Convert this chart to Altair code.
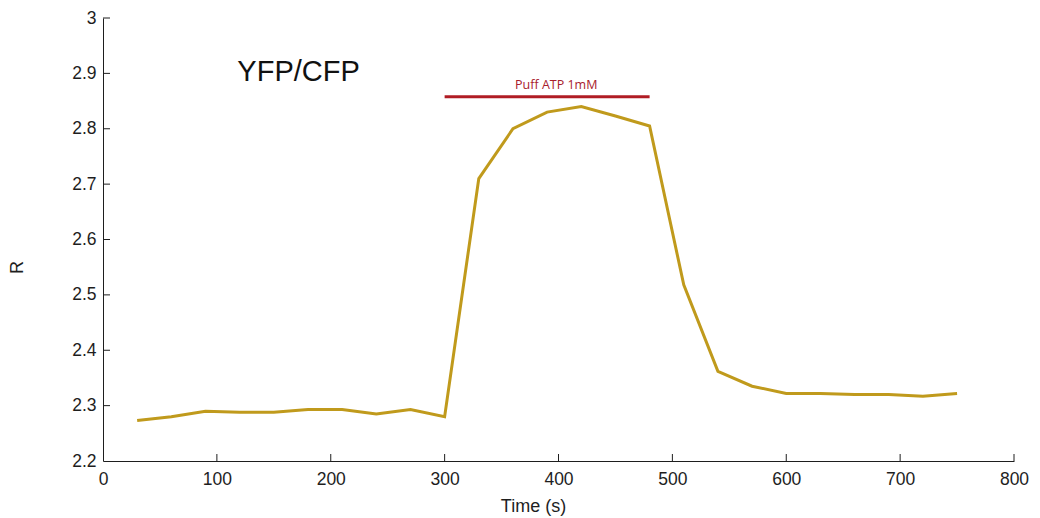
import altair as alt
import pandas as pd

# Ratio time course (seconds, YFP/CFP ratio)
time_s = [30, 60, 90, 120, 150, 180, 210, 240, 270, 300, 330, 360, 390,
          420, 450, 480, 510, 540, 570, 600, 630, 660, 690, 720, 750]
ratio = [2.273, 2.280, 2.290, 2.288, 2.288, 2.293, 2.293, 2.285, 2.293, 2.280,
         2.710, 2.800, 2.830, 2.840, 2.823, 2.805, 2.518, 2.362, 2.335, 2.322,
         2.322, 2.320, 2.320, 2.317, 2.322]

# Stimulus period (ATP puff)
puff_start, puff_end, puff_level = 300, 480, 2.858
puff_label = "Puff ATP 1mM"

x_ticks = [0, 100, 200, 300, 400, 500, 600, 700, 800]
y_ticks = [2.2, 2.3, 2.4, 2.5, 2.6, 2.7, 2.8, 2.9, 3.0]

W, H = 911, 443
font = "Liberation Sans"
ink = "#1e1e1e"

df = pd.DataFrame({"t": time_s, "r": ratio})

x_scale = alt.Scale(domain=[0, 800], nice=False, zero=False)
y_scale = alt.Scale(domain=[2.2, 3.0], nice=False, zero=False)

x_axis = alt.Axis(values=x_ticks, tickSize=0, labelPadding=9, grid=False,
                  labelFlush=False, labelFontSize=17.5, labelFont=font,
                  labelColor=ink, domainColor=ink, title="Time (s)",
                  titleFontSize=18, titleFont=font, titleFontWeight="normal",
                  titleColor=ink, titleX=430, titleY=45,
                  titleBaseline="middle", titleAlign="center")
y_axis = alt.Axis(values=y_ticks, tickSize=0, labelPadding=7, grid=False,
                  labelFlush=False, labelFontSize=17.5, labelFont=font,
                  labelColor=ink, format=".1~f", domainColor=ink, title="R",
                  titleFontSize=18, titleFont=font, titleFontWeight="normal",
                  titleColor=ink, titleX=-86, titleY=249, titleAngle=-90,
                  titleBaseline="middle", titleAlign="center")


def xenc(field):
    return alt.X(field, type="quantitative", scale=x_scale, axis=x_axis)


def yenc(field):
    return alt.Y(field, type="quantitative", scale=y_scale, axis=y_axis)


line = alt.Chart(df).mark_line(color="#c09a1c", strokeWidth=3).encode(
    x=xenc("t"), y=yenc("r"),
)

# Inward-pointing tick marks
xt = pd.DataFrame({"v": x_ticks[1:]})
x_tick_marks = alt.Chart(xt).mark_rule(color=ink, strokeWidth=1).encode(
    x=xenc("v"), y=alt.value(H), y2=alt.value(H - 7),
)
yt = pd.DataFrame({"v": y_ticks[1:]})
y_tick_marks = alt.Chart(yt).mark_rule(color=ink, strokeWidth=1).encode(
    y=yenc("v"), x=alt.value(0), x2=alt.value(7),
)

puff = pd.DataFrame({"a": [puff_start], "b": [puff_end], "y": [puff_level],
                     "mid": [(puff_start + puff_end) / 2 + 8],
                     "ty": [puff_level + 0.021], "lab": [puff_label]})
puff_bar = alt.Chart(puff).mark_rule(color="#b01c24", strokeWidth=3).encode(
    x=xenc("a"), x2="b:Q", y=yenc("y"),
)
puff_text = alt.Chart(puff).mark_text(
    color="#a8202c", fontSize=12.5, font="Open Sans", baseline="middle"
).encode(
    x=xenc("mid"), y=yenc("ty"), text="lab:N",
)

title_df = pd.DataFrame({"x": [118], "y": [2.902], "lab": ["YFP/CFP"]})
title_text = alt.Chart(title_df).mark_text(
    color="#111", fontSize=29, font=font, align="left", baseline="middle"
).encode(
    x=xenc("x"), y=yenc("y"), text="lab:N",
)

chart = alt.layer(
    line, x_tick_marks, y_tick_marks, puff_bar, puff_text, title_text
).properties(
    width=W, height=H,
    autosize=alt.AutoSizeParams(type="none"),
    padding={"left": 103, "top": 18, "right": 26, "bottom": 57},
    background="white",
).configure_view(stroke=None)

chart.save("out.html", embed_options={"renderer": "svg", "actions": False})
